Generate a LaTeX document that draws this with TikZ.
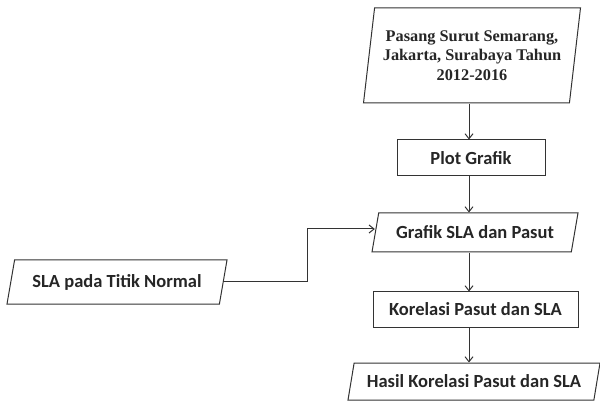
\documentclass[tikz,border=0pt]{standalone}
\usepackage{fontspec}
\setmainfont{Carlito}
\newfontfamily\serifbold{Liberation Serif}
\usetikzlibrary{shapes.geometric,arrows.meta}
\tikzset{
  boxline/.style={draw=black!80, line width=1pt, fill=white, text=black!85, inner sep=0pt, align=center},
  procbox/.style={boxline, rectangle, font=\fontsize{18.5}{21}\selectfont\bfseries},
  iobox/.style={boxline, trapezium, trapezium stretches body, trapezium left angle=#1, trapezium right angle=180-#1, font=\fontsize{18.5}{21}\selectfont\bfseries},
  arr/.style={draw=black!80, line width=1pt, -{Straight Barb[length=5pt,width=8pt]}},
}
\begin{document}
\begin{tikzpicture}[x=1pt,y=-1pt]
\useasboundingbox (0,0) rectangle (600,406);
\node[iobox=77.5, minimum width=217pt, minimum height=95pt, font=\serifbold\fontsize{16.3}{19.5}\selectfont\bfseries] (src) at (472,55.5) {Pasang Surut Semarang,\\Jakarta, Surabaya Tahun\\2012-2016};
\node[procbox, minimum width=148pt, minimum height=36pt] (plot) at (471,158) {Plot Grafik};
\node[iobox=63, minimum width=206pt, minimum height=39pt] (graf) at (475,232.5) {Grafik SLA dan Pasut};
\node[iobox=64.5, minimum width=220pt, minimum height=44pt] (sla) at (117,282) {SLA pada Titik Normal};
\node[procbox, minimum width=205pt, minimum height=35pt] (kor) at (475.5,309.5) {Korelasi Pasut dan SLA};
\node[iobox=65, minimum width=252pt, minimum height=37pt] (has) at (474,381.5) {Hasil Korelasi Pasut dan SLA};
\coordinate (spine) at (469,0);
\draw[arr] (src.south -| spine) -- (plot.north -| spine);
\draw[arr] (plot.south -| spine) -- (graf.north -| spine);
\draw[arr] (graf.south -| spine) -- (kor.north -| spine);
\draw[arr] (kor.south -| spine) -- (has.north -| spine);
\coordinate (bend) at (307,0);
\coordinate (gin) at ([yshift=3.5pt]graf.west);
\draw[arr] (sla.east) -| (bend |- gin) -- (gin);
\end{tikzpicture}
\end{document}
